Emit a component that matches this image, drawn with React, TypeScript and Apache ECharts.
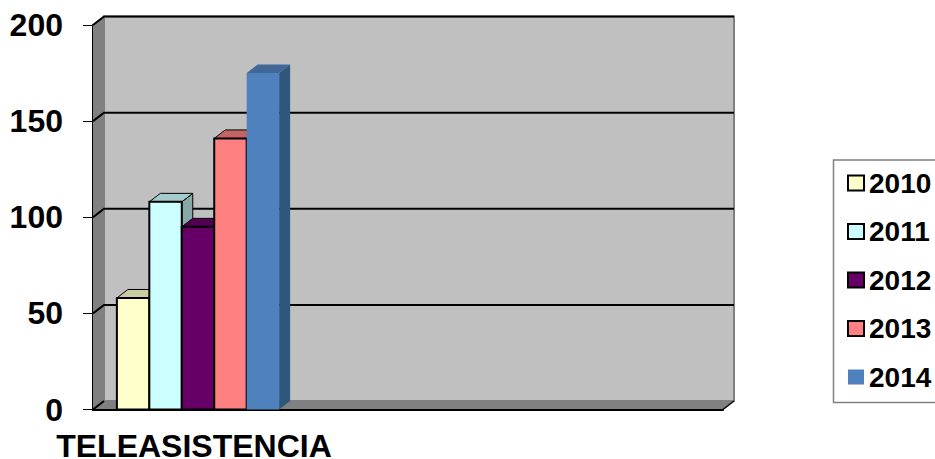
import React, { useEffect, useRef } from "react";
import * as echarts from "echarts";

const categories = ["TELEASISTENCIA", "", ""];
const years = ["2010", "2011", "2012", "2013", "2014"];
const values2010 = [58];
const values2011 = [108];
const values2012 = [95];
const values2013 = [141];
const values2014 = [175];
const yTicks = [0, 50, 100, 150, 200];

const FONT = '"Liberation Sans", Arial, sans-serif';
const DX = 11;
const DY = -8.5;
const BAR_FRACTION = 32.4 / 209.7;

const seriesStyle = [
  { values: values2010, front: "#FFFFCC", top: "#CCCCA3", side: "#A8A888", border: "#000000", bw: 2 },
  { values: values2011, front: "#CCFFFF", top: "#A3CCCC", side: "#88A8A8", border: "#000000", bw: 2 },
  { values: values2012, front: "#660066", top: "#520052", side: "#440044", border: "#000000", bw: 2 },
  { values: values2013, front: "#FF8080", top: "#C46464", side: "#A85454", border: "#000000", bw: 2 },
  { values: values2014, front: "#4F81BD", top: "#3F6797", side: "#30567C", border: "#4F81BD", bw: 0 },
];

function wallsItem(params: any, api: any) {
  const y = api.value(0);
  const left = api.coord([0, y]);
  const size = api.size([1, 0]);
  const xL = left[0] - size[0] / 2;
  const xR = xL + size[0] * categories.length;
  const py = left[1];
  const children: any[] = [];
  if (params.dataIndex === 0) {
    const top = api.coord([0, yTicks[yTicks.length - 1]])[1];
    children.push(
      { type: "polygon", shape: { points: [[xL + DX, top + DY], [xR + DX, top + DY], [xR + DX, py + DY], [xL + DX, py + DY]] }, style: { fill: "#C0C0C0", stroke: "#808080", lineWidth: 2 } },
      { type: "polygon", shape: { points: [[xL, top], [xL + DX, top + DY], [xL + DX, py + DY], [xL, py]] }, style: { fill: "#808080" } },
      { type: "polygon", shape: { points: [[xL, py], [xL + DX, py + DY], [xR + DX, py + DY], [xR, py]] }, style: { fill: "#808080" } },
      { type: "polyline", shape: { points: [[xR, py], [xR + DX, py + DY]] }, style: { stroke: "#000000", lineWidth: 1.5, fill: "none" } }
    );
  }
  children.push({
    type: "polyline",
    shape: { points: [[xL, py], [xL + DX, py + DY], ...(params.dataIndex === 0 ? [] : [[xR + DX, py + DY]])] },
    style: { stroke: "#000000", lineWidth: 2, fill: "none" },
  });
  return { type: "group", children };
}

function barItem(index: number) {
  return (_params: any, api: any) => {
    const s = seriesStyle[index];
    const c = api.value(0);
    const v = api.value(1);
    const topPt = api.coord([c, v]);
    const base = api.coord([c, 0]);
    const band = api.size([1, 0])[0];
    const w = band * BAR_FRACTION;
    const x0 = topPt[0] - (w * years.length) / 2 + index * w;
    const x1 = x0 + w;
    const yT = topPt[1];
    const yB = base[1];
    const lw = s.bw;
    return {
      type: "group",
      children: [
        { type: "polygon", shape: { points: [[x1, yT], [x1 + DX, yT + DY], [x1 + DX, yB + DY], [x1, yB]] }, style: { fill: s.side, stroke: s.bw ? s.border : s.side, lineWidth: lw ? 1 : 0 } },
        { type: "polygon", shape: { points: [[x0, yT], [x0 + DX, yT + DY], [x1 + DX, yT + DY], [x1, yT]] }, style: { fill: s.top, stroke: s.bw ? s.border : s.top, lineWidth: lw ? 1 : 0 } },
        { type: "rect", shape: { x: x0, y: yT, width: w, height: yB - yT }, style: { fill: s.front, stroke: s.border, lineWidth: lw } },
      ],
    };
  };
}

export default function App() {
  const ref = useRef<HTMLDivElement>(null);
  useEffect(() => {
    const chart = echarts.init(ref.current!, undefined, { renderer: "svg" });
    chart.setOption({
      animation: false,
      backgroundColor: "#FFFFFF",
      grid: { left: 93, top: 25, width: 630, height: 384.5, outerBoundsMode: "none" },
      xAxis: {
        type: "category",
        data: categories,
        axisLine: { lineStyle: { color: "#000000", width: 2 } },
        axisTick: { length: 8, lineStyle: { color: "#808080", width: 1 } },
        axisLabel: { interval: 0, margin: 25, lineHeight: 22, padding: [0, 8, 0, 0], color: "#000000", fontFamily: FONT, fontWeight: "bold", fontSize: 32 },
        z: 5,
      },
      yAxis: {
        type: "value",
        min: 0,
        max: 200,
        interval: 50,
        splitLine: { show: false },
        axisLine: { show: true, lineStyle: { color: "#000000", width: 2 } },
        axisTick: { show: true, length: 10, lineStyle: { color: "#000000", width: 1 } },
        axisLabel: { margin: 30, color: "#000000", fontFamily: FONT, fontWeight: "bold", fontSize: 32 },
      },
      legend: {
        orient: "vertical",
        left: 842,
        top: 162,
        itemWidth: 16,
        itemHeight: 15,
        itemGap: 16.5,
        selectedMode: false,
        textStyle: { color: "#000000", fontFamily: FONT, fontWeight: "bold", fontSize: 28, lineHeight: 32 },
        data: years.map((name, i) => ({
          name,
          icon: "rect",
          itemStyle: { color: seriesStyle[i].front, borderColor: "#000000", borderWidth: seriesStyle[i].bw },
        })),
      },
      graphic: [
        {
          type: "polyline",
          shape: { points: [[935, 160], [833.5, 160], [833.5, 402.5], [935, 402.5]] },
          style: { stroke: "#808080", lineWidth: 1.5, fill: "none" },
        },
      ],
      series: [
        {
          type: "custom",
          name: "walls",
          renderItem: wallsItem,
          data: yTicks.map((t) => [t]),
          encode: { y: 0 },
          silent: true,
          z: 1,
        },
        ...years.map((name, i) => ({
          type: "custom",
          name,
          renderItem: barItem(i),
          data: seriesStyle[i].values.map((v, c) => [c, v]),
          encode: { x: 0, y: 1 },
          itemStyle: { color: seriesStyle[i].front },
          z: 2 + i,
        })),
      ],
    });
    return () => chart.dispose();
  }, []);
  return <div ref={ref} style={{ position: "fixed", left: 0, top: 0, width: 935, height: 459 }} />;
}
